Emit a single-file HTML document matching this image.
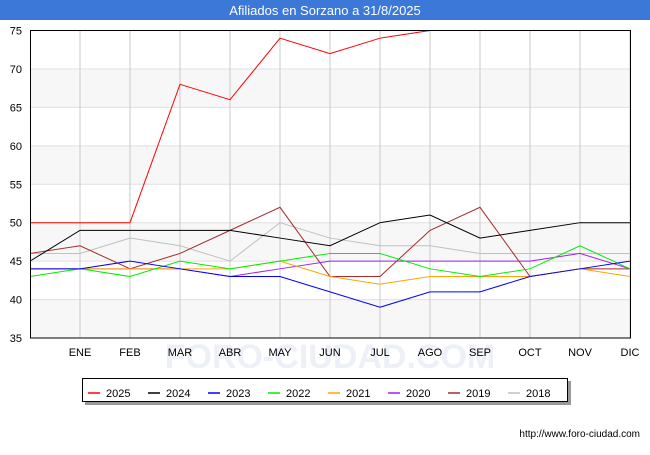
<!DOCTYPE html>
<html><head><meta charset="utf-8"><style>
body{margin:0;width:650px;height:450px;background:#fff;font-family:"Liberation Sans",sans-serif;overflow:hidden}
</style></head><body>
<svg width="650" height="450" xmlns="http://www.w3.org/2000/svg">
<rect x="0" y="0" width="650" height="20" fill="#3c78d8"/>
<text x="325" y="15" text-anchor="middle" fill="#fff" font-size="13">Afiliados en Sorzano a 31/8/2025</text>
<g id="bands"></g><g id="grid"></g>
<text x="330" y="368" text-anchor="middle" font-size="34" fill="#eef0f8" font-weight="bold">FORO-CIUDAD.COM</text>
<g id="series"></g>
<rect x="30.5" y="30.5" width="600" height="307.5" fill="none" stroke="#000"/>
<g id="axes" font-size="11" fill="#000"></g>
<rect x="85" y="381" width="486" height="24" fill="#999"/>
<rect x="82.5" y="378.5" width="485" height="23" fill="#fff" stroke="#000"/>
<g id="legend" font-size="11"></g>
<text x="640" y="437" text-anchor="end" font-size="10">http://www.foro-ciudad.com</text>
</svg>
<script>
const months=["ENE","FEB","MAR","ABR","MAY","JUN","JUL","AGO","SEP","OCT","NOV","DIC"];
const yTicks=[35,40,45,50,55,60,65,70,75];
const seriesNames=["2025","2024","2023","2022","2021","2020","2019","2018"];
const seriesColors=["#ff0000","#000000","#0000ff","#00ee00","#ffa500","#a020f0","#a52a2a","#c0c0c0"];
const s2025=[50,50,50,68,66,74,72,74,75];
const s2024=[45,49,49,49,49,48,47,50,51,48,49,50,50];
const s2023=[44,44,45,44,43,43,41,39,41,41,43,44,45];
const s2022=[43,44,43,45,44,45,46,46,44,43,44,47,44];
const s2021=[44,44,44,44,44,45,43,42,43,43,43,44,43];
const s2020=[44,44,44,44,43,44,45,45,45,45,45,46,44];
const s2019=[46,47,44,46,49,52,43,43,49,52,43,44,44];
const s2018=[46,46,48,47,45,50,48,47,47,46,46,46,46];
const allSeries=[s2025,s2024,s2023,s2022,s2021,s2020,s2019,s2018];
const NS="http://www.w3.org/2000/svg";
const X=i=>30+i*50, Y=v=>338-(v-35)*7.6875;
function mk(t,a,p){const e=document.createElementNS(NS,t);for(const k in a)e.setAttribute(k,a[k]);document.getElementById(p).appendChild(e);return e;}
for(let k=0;k<yTicks.length-1;k++){if(k%2==0){const r=mk("rect",{x:30,y:Y(yTicks[k+1]),width:600,height:Y(yTicks[k])-Y(yTicks[k+1]),fill:"#f7f7f7"},"bands");

}}
yTicks.forEach(v=>{const l=mk("line",{x1:30,x2:630,y1:Y(v),y2:Y(v),stroke:"#e0e0e0"},"grid");


const t=mk("text",{x:22,y:Y(v)+4,"text-anchor":"end"},"axes");t.textContent=v;

});
months.forEach((m,i)=>{const l=mk("line",{x1:X(i+1),x2:X(i+1),y1:30,y2:338,stroke:"#c8c8c8"},"grid");


const t=mk("text",{x:X(i+1),y:356,"text-anchor":"middle"},"axes");t.textContent=m;

});
for(let s=allSeries.length-1;s>=0;s--){const p=mk("polyline",{points:allSeries[s].map((v,i)=>X(i)+","+Y(v)).join(" "),fill:"none",stroke:seriesColors[s],"stroke-width":1},"series");

}
seriesNames.forEach((n,i)=>{const x=88+i*60;const l=mk("line",{x1:x,x2:x+12,y1:393,y2:393,stroke:seriesColors[i],"stroke-width":1.5},"legend");


const t=mk("text",{x:x+18,y:397},"legend");t.textContent=n;

});
</script>
</body></html>
